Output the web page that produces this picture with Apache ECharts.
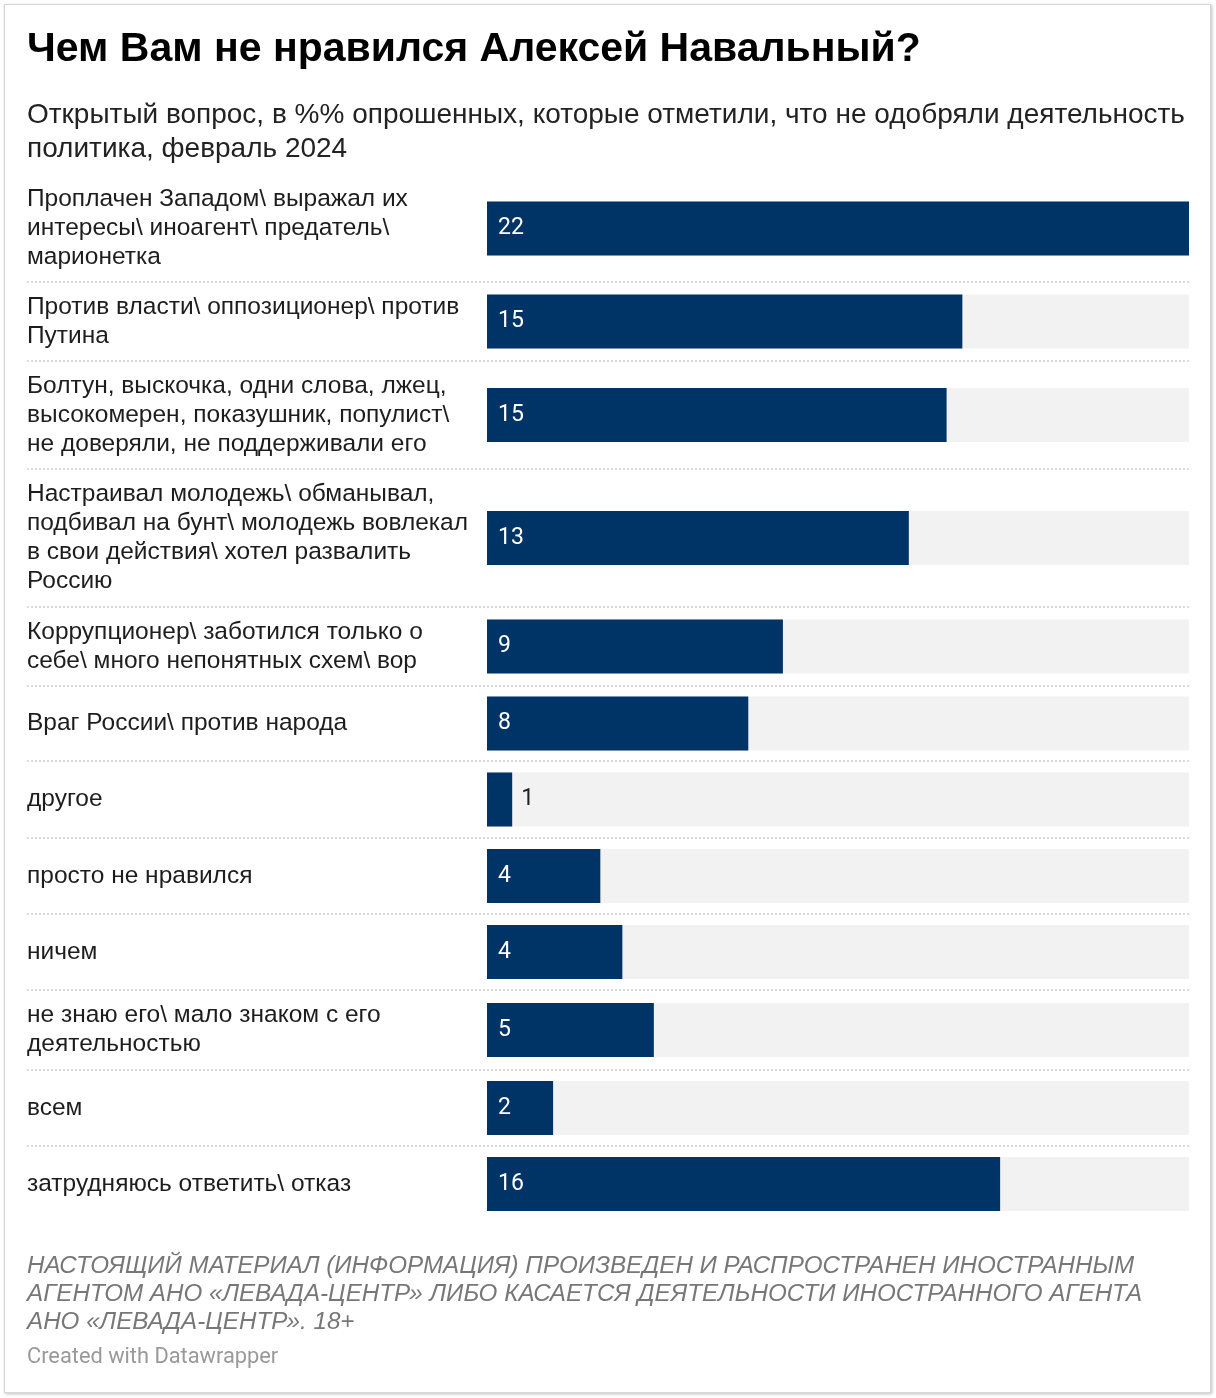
<!DOCTYPE html>
<html>
<head>
<meta charset="utf-8">
<script src="https://cdn.jsdelivr.net/npm/echarts@6/dist/echarts.min.js"></script>
<style>
  html, body { margin: 0; padding: 0; background: #fff; }
  #frame {
    position: absolute; left: 4px; top: 4px; width: 1205px; height: 1387px;
    border: 1px solid #d6d6d6; box-shadow: 1px 1px 3px rgba(0, 0, 0, 0.25); background: #fff;
  }
  #chart { position: absolute; left: 0; top: 0; width: 1216px; height: 1398px; }
</style>
</head>
<body>
<div id="frame"></div>
<div id="chart"></div>
<script>
// Категории ответов (переносы строк как в оригинале)
const categories = [
  'Проплачен Западом\\ выражал их\nинтересы\\ иноагент\\ предатель\\\nмарионетка',
  'Против власти\\ оппозиционер\\ против\nПутина',
  'Болтун, выскочка, одни слова, лжец,\nвысокомерен, показушник, популист\\\nне доверяли, не поддерживали его',
  'Настраивал молодежь\\ обманывал,\nподбивал на бунт\\ молодежь вовлекал\nв свои действия\\ хотел развалить\nРоссию',
  'Коррупционер\\ заботился только о\nсебе\\ много непонятных схем\\ вор',
  'Враг России\\ против народа',
  'другое',
  'просто не нравился',
  'ничем',
  'не знаю его\\ мало знаком с его\nдеятельностью',
  'всем',
  'затрудняюсь ответить\\ отказ'
]

// % опрошенных (оценено по длине столбцов, подписи округлены)
const values = [22.3, 15.1, 14.6, 13.4, 9.4, 8.3, 0.8, 3.6, 4.3, 5.3, 2.1, 16.3]

const footerText = 'НАСТОЯЩИЙ МАТЕРИАЛ (ИНФОРМАЦИЯ) ПРОИЗВЕДЕН И РАСПРОСТРАНЕН ИНОСТРАННЫМ\n' +
  'АГЕНТОМ АНО «ЛЕВАДА-ЦЕНТР» ЛИБО КАСАЕТСЯ ДЕЯТЕЛЬНОСТИ ИНОСТРАННОГО АГЕНТА\n' +
  'АНО «ЛЕВАДА-ЦЕНТР». 18+'

// раскладка строк
const rowHeights = [107, 79, 108, 138, 79, 75, 77, 76, 76, 80, 76, 76]
const firstTop = 175
const plotLeft = 487
const plotRight = 1189
const labelLeft = 27

const rowTops = []
let y = firstTop
rowHeights.forEach(h => { rowTops.push(y); y += h })

const maxValue = Math.max(...values)
const pxPerUnit = (plotRight - plotLeft) / maxValue

const grids = []
const xAxes = []
const yAxes = []
const series = []

categories.forEach((cat, i) => {
  grids.push({ left: plotLeft, right: 1216 - plotRight, top: rowTops[i], height: rowHeights[i] })
  xAxes.push({ gridIndex: i, type: 'value', min: 0, max: maxValue, show: false })
  yAxes.push({
    gridIndex: i,
    type: 'category',
    data: [cat],
    axisLine: { show: false },
    axisTick: { show: false },
    axisLabel: {
      align: 'left',
      margin: plotLeft - labelLeft,
      fontFamily: 'Liberation Sans',
      fontSize: 24.5,
      lineHeight: 29,
      color: '#1d1d1d'
    }
  })
  const narrow = values[i] * pxPerUnit < 40
  series.push({
    type: 'bar',
    xAxisIndex: i,
    yAxisIndex: i,
    barWidth: 54,
    showBackground: true,
    backgroundStyle: { color: '#f2f2f2' },
    itemStyle: { color: '#003366' },
    silent: true,
    data: [{
      value: values[i],
      label: narrow ? { position: 'right', color: '#222', distance: 9 } : {}
    }],
    label: {
      show: true,
      position: 'insideLeft',
      distance: 11,
      color: '#fff',
      fontFamily: 'Roboto',
      fontSize: 23,
      formatter: p => Math.round(p.value)
    }
  })
})

// пунктирные разделители между строками
const separators = rowTops.slice(1).map(t => ({
  type: 'line',
  silent: true,
  shape: { x1: labelLeft, y1: t, x2: plotRight, y2: t },
  style: { stroke: '#dadada', lineWidth: 2, lineDash: [2, 2] }
}))

const chart = echarts.init(document.getElementById('chart'), null, { renderer: 'canvas' })
chart.setOption({
  animation: false,
  backgroundColor: 'transparent',
  title: [
    {
      text: 'Чем Вам не нравился Алексей Навальный?',
      left: labelLeft, top: 26, padding: 0,
      textStyle: { fontFamily: 'Liberation Sans', fontWeight: 'bold', fontSize: 41, lineHeight: 48, color: '#000' }
    },
    {
      text: 'Открытый вопрос, в %% опрошенных, которые отметили, что не одобряли деятельность\nполитика, февраль 2024',
      left: labelLeft, top: 98, padding: 0,
      textStyle: { fontFamily: 'Liberation Sans', fontWeight: 'normal', fontSize: 28, lineHeight: 34, color: '#222' }
    },
    {
      text: footerText,
      left: labelLeft, top: 1252, padding: 0,
      textStyle: { fontFamily: 'Liberation Sans', fontStyle: 'italic', fontWeight: 'normal', fontSize: 24.2, lineHeight: 28, color: '#777' }
    },
    {
      text: 'Created with Datawrapper',
      left: labelLeft, top: 1345, padding: 0,
      textStyle: { fontFamily: 'Roboto', fontWeight: 'normal', fontSize: 21.8, lineHeight: 26, color: '#999' }
    }
  ],
  grid: grids,
  xAxis: xAxes,
  yAxis: yAxes,
  series: series,
  graphic: separators
})
</script>
</body>
</html>
